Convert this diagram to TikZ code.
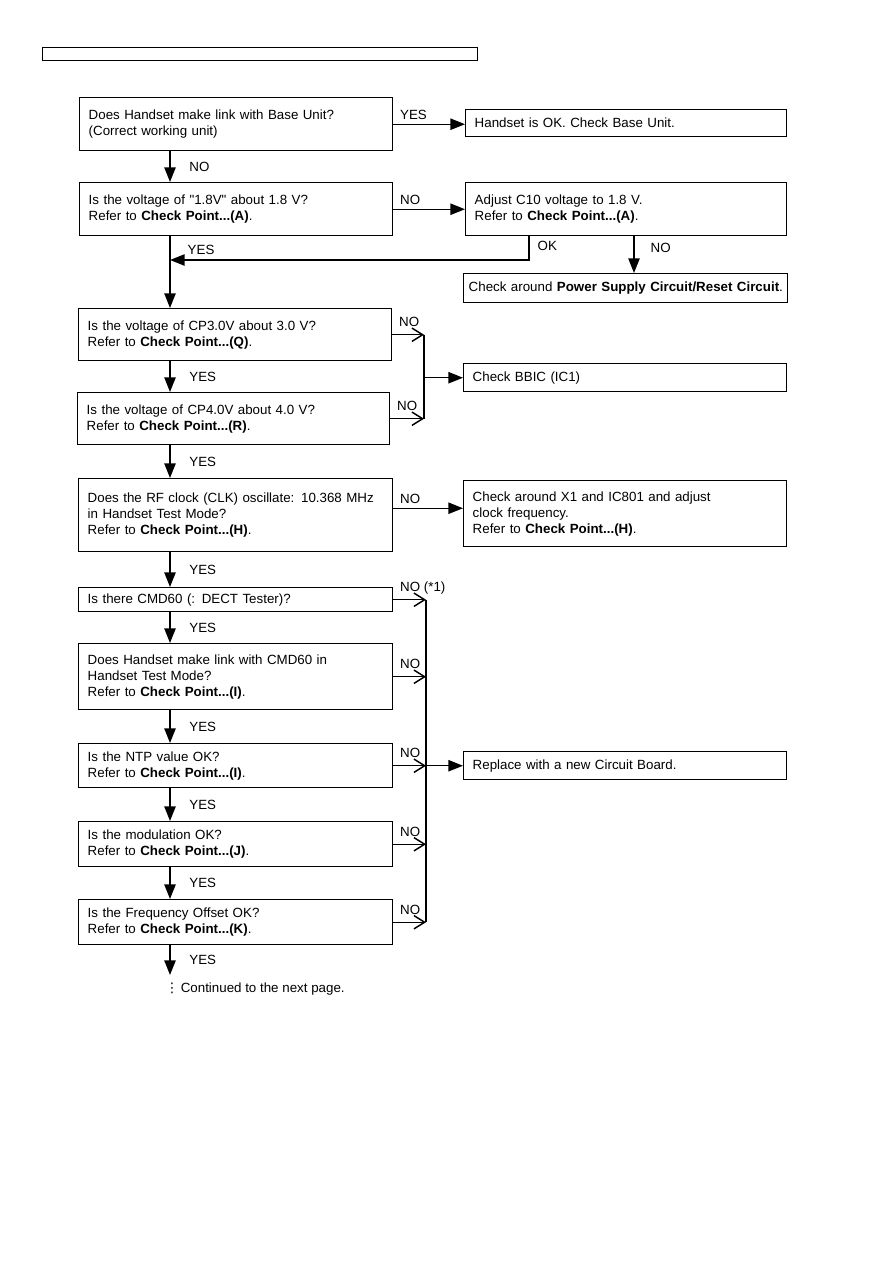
\documentclass[tikz,border=0pt]{standalone}
\usepackage{fontspec}
\setmainfont{Liberation Sans}
\newfontfamily\symfont{DejaVu Sans}
\usetikzlibrary{positioning, arrows.meta}

\tikzset{
  qbox/.style 2 args={draw, line width=1.1pt, anchor=north west, align=left,
    inner xsep=6.75pt, inner ysep=0pt, text width=#1*0.75pt-13.5pt,
    minimum height=#2*0.75pt, font=\fontsize{10}{12}\selectfont},
  qboxw/.style 2 args={qbox={#1}{#2}, inner xsep=3.75pt, text width=#1*0.75pt-7.5pt},
  lbl/.style={inner sep=0pt, font=\fontsize{10}{12}\selectfont},
  downlbl/.style={lbl, midway, anchor=west, xshift=14pt},
  nolbl/.style={lbl, pos=0, anchor=base west, xshift=4.5pt, yshift=3.75pt},
  jnlbl/.style={lbl, pos=0, anchor=base west, xshift=4.5pt, yshift=6pt},
  arr/.style={line width=1.1pt, -{Triangle[length=11pt,width=8.5pt]}},
  barb/.style={line width=1.1pt, -{Straight Barb[length=8pt,width=10pt]}},
  wire/.style={line width=1.1pt},
}

\begin{document}
\begin{tikzpicture}[x=0.75pt, y=-0.75pt]
  \useasboundingbox (0,0) rectangle (893,1263);
  \node[draw, line width=1pt, anchor=north west, inner sep=0pt,
        minimum width=326.25pt, minimum height=9.75pt] (hdr) at (42,47) {};

  \coordinate (mainx) at (170,0);
  \coordinate (okx) at (529,260);
  \coordinate (nox) at (634,0);
  \coordinate (joinA) at (424,0);
  \coordinate (joinB) at (426,0);
  \coordinate (endp) at (170,975);

  % checks
  \node[qbox={313}{53}] (q1) at (79,97) {Does Handset make link with Base Unit?\\(Correct working unit)};
  \node[qbox={313}{53}] (q2) at (79,182) {Is the voltage of \textquotedbl 1.8V\textquotedbl{} about 1.8 V?\\Refer to \textbf{Check Point...(A)}.};
  \node[qbox={313}{52}] (q3) at (78,308) {Is the voltage of CP3.0V about 3.0 V?\\Refer to \textbf{Check Point...(Q)}.};
  \node[qbox={312}{52}] (q4) at (77,392) {Is the voltage of CP4.0V about 4.0 V?\\Refer to \textbf{Check Point...(R)}.};
  \node[qbox={314}{73}] (q5) at (78,478) {Does the RF clock (CLK) oscillate: 10.368 MHz\\in Handset Test Mode?\\Refer to \textbf{Check Point...(H)}.};
  \node[qbox={314}{24}] (q6) at (78,587) {Is there CMD60 (: DECT Tester)?};
  \node[qbox={314}{66}] (q7) at (78,643) {Does Handset make link with CMD60 in\\Handset Test Mode?\\Refer to \textbf{Check Point...(I)}.};
  \node[qbox={314}{44}] (q8) at (78,743) {Is the NTP value OK?\\Refer to \textbf{Check Point...(I)}.};
  \node[qbox={314}{45}] (q9) at (78,821) {Is the modulation OK?\\Refer to \textbf{Check Point...(J)}.};
  \node[qbox={314}{45}] (q10) at (78,899) {Is the Frequency Offset OK?\\Refer to \textbf{Check Point...(K)}.};

  % actions
  \node[qbox={321}{27}] (ok1) at (465,109) {Handset is OK. Check Base Unit.};
  \node[qbox={321}{53}] (adj) at (465,182) {Adjust C10 voltage to 1.8 V.\\Refer to \textbf{Check Point...(A)}.};
  \node[qboxw={324}{29}] (pwr) at (463,273) {\mbox{Check around \textbf{Power Supply Circuit/Reset Circuit}.}};
  \node[qbox={323}{28}] (bbic) at (463,363) {Check BBIC (IC1)};
  \node[qbox={323}{66}] (clk) at (463,480) {Check around X1 and IC801 and adjust\\clock frequency.\\Refer to \textbf{Check Point...(H)}.};
  \node[qbox={323}{28}] (rep) at (463,751) {Replace with a new Circuit Board.};

  \node[lbl, anchor=west] (cont) at (165,989) {{\symfont ⋮}\,Continued to the next page.};

  % connectors
  \draw[arr] (q1.east) -- (q1.east -| ok1.west) node[nolbl] {YES};
  \draw[arr] (mainx |- q1.south) -- (mainx |- q2.north) node[downlbl] {NO};
  \draw[arr] (q2.east) -- (adj.west) node[nolbl] {NO};
  \draw[arr] (okx |- adj.south) -- node[lbl, pos=.4, anchor=west, xshift=6pt] {OK} (okx)
    -- (mainx |- okx) node[lbl, pos=1, anchor=base west, xshift=12.75pt, yshift=4.5pt] {YES};
  \draw[arr] (nox |- adj.south) -- (nox |- pwr.north) node[lbl, pos=.32, anchor=west, xshift=12pt] {NO};
  \draw[arr] (mainx |- q2.south) -- (mainx |- q3.north);
  \draw[arr] (mainx |- q3.south) -- (mainx |- q4.north) node[downlbl] {YES};
  \draw[barb] (q3.east) -- (q3.east -| joinA) node[jnlbl] {NO};
  \draw[barb] (q4.east) -- (q4.east -| joinA) node[jnlbl] {NO};
  \draw[wire] (q3.east -| joinA) -- (q4.east -| joinA);
  \draw[arr] (joinA |- bbic.west) -- (bbic.west);
  \draw[arr] (mainx |- q4.south) -- (mainx |- q5.north) node[downlbl] {YES};
  \draw[arr] ([yshift=5.25pt]q5.east) -- ([yshift=5.25pt]q5.east -| clk.west) node[nolbl] {NO};
  \draw[arr] (mainx |- q5.south) -- (mainx |- q6.north) node[downlbl] {YES};
  \draw[arr] (mainx |- q6.south) -- (mainx |- q7.north) node[downlbl] {YES};
  \draw[arr] (mainx |- q7.south) -- (mainx |- q8.north) node[downlbl] {YES};
  \draw[arr] (mainx |- q8.south) -- (mainx |- q9.north) node[downlbl] {YES};
  \draw[arr] (mainx |- q9.south) -- (mainx |- q10.north) node[downlbl] {YES};
  \draw[arr] (mainx |- q10.south) -- (endp) node[downlbl] {YES};
  \draw[barb] (q6.east) -- (q6.east -| joinB) node[jnlbl] {NO (*1)};
  \draw[barb] (q7.east) -- (q7.east -| joinB) node[jnlbl] {NO};
  \draw[barb] (q8.east) -- (q8.east -| joinB) node[jnlbl] {NO};
  \draw[barb] (q9.east) -- (q9.east -| joinB) node[jnlbl] {NO};
  \draw[barb] (q10.east) -- (q10.east -| joinB) node[jnlbl] {NO};
  \draw[wire] (q6.east -| joinB) -- (q10.east -| joinB);
  \draw[arr] (joinB |- rep.west) -- (rep.west);
\end{tikzpicture}
\end{document}
